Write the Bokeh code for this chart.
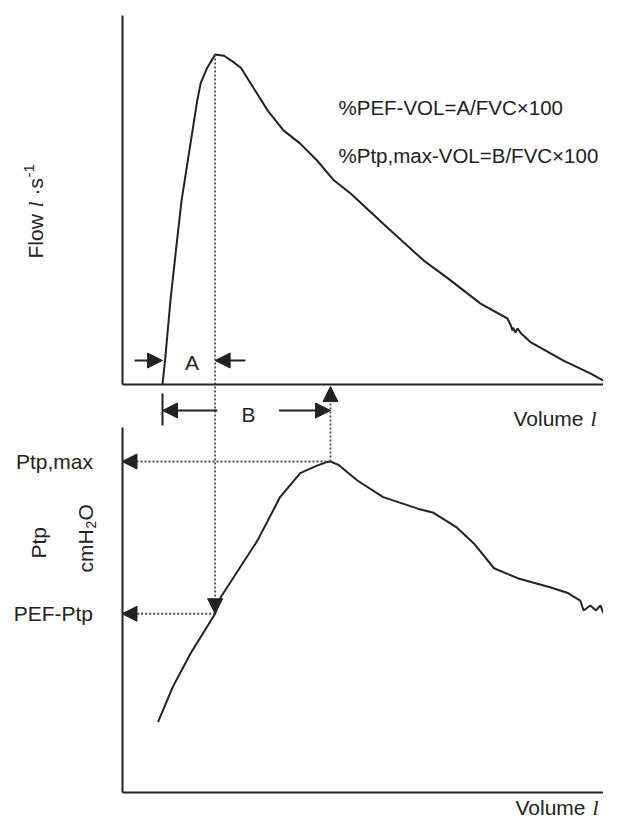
import math
from bokeh.plotting import figure
from bokeh.models import Range1d, LinearAxis, FixedTicker, Arrow, NormalHead, Label
from bokeh.embed import file_html
from bokeh.resources import INLINE

# ---------------- data ----------------
FVC = 4.0                     # l
PEF = 8.0                     # l/s
V_PEF = 0.47                  # volume at PEF (A)
PEF_PTP = 21.6                # cmH2O at PEF
PTP_MAX = 40.0                # cmH2O
V_PTPMAX = 1.50               # volume at Ptp,max (B)

volume_flow = [0.0, 0.027, 0.071, 0.12, 0.17, 0.24, 0.31, 0.34, 0.40, 0.455, 0.47,
               0.55, 0.63, 0.70, 0.81, 0.94, 1.08, 1.23, 1.38, 1.53, 1.68, 1.99,
               2.33, 2.54, 2.84, 3.08, 3.11, 3.125, 3.13, 3.15, 3.17, 3.20, 3.29,
               3.58, 3.82, 4.0]
flow = [0.0, 0.70, 2.04, 3.25, 4.46, 5.67, 6.88, 7.30, 7.68, 7.93, 8.0,
        7.97, 7.82, 7.68, 7.20, 6.64, 6.16, 5.84, 5.43, 4.95, 4.63, 3.85,
        3.01, 2.59, 1.96, 1.60, 1.43, 1.31, 1.38, 1.26, 1.36, 1.24, 1.02,
        0.58, 0.27, 0.0]

volume_ptp = [-0.04, 0.09, 0.25, 0.47, 0.52, 0.85, 1.05, 1.23, 1.38, 1.46, 1.50,
              1.57, 1.74, 1.97, 2.28, 2.42, 2.63, 2.78, 2.96, 3.17, 3.46, 3.62,
              3.73, 3.76, 3.82, 3.87, 3.91, 3.94]
ptp = [8.5, 12.7, 16.8, 21.6, 23.6, 30.5, 35.7, 38.6, 39.5, 39.9, 40.0,
       39.6, 37.7, 35.7, 34.3, 33.8, 32.0, 30.1, 27.1, 25.9, 24.8, 24.1,
       23.2, 22.0, 22.6, 22.0, 22.6, 21.6]

tick_values = [PEF_PTP, PTP_MAX]
tick_labels = ["PEF-Ptp", "Ptp,max"]
formulas = ["%PEF-VOL=A/FVC\u00d7100", "%Ptp,max-VOL=B/FVC\u00d7100"]

# ---------------- layout ----------------
W, H = 603, 820
X0_PX, PX_PER_L = 162.0, 112.0     # volume 0 position, px per litre
F0_PY, PX_PER_F = 384.0, 41.25     # flow 0 position, px per l/s
P0_PY, PX_PER_P = 792.0, 8.275     # Ptp 0 position, px per cmH2O

INK = "#222222"
DOT = "#4a4a4a"
SANS = "Liberation Sans"
SERIF = "Liberation Serif"


def vol_at(px):
    return (px - X0_PX) / PX_PER_L


def flow_at(py):
    return (F0_PY - py) / PX_PER_F


def ptp_at(py):
    return (P0_PY - py) / PX_PER_P


def flow_to_ptp(f):
    return ptp_at(F0_PY - f * PX_PER_F)


p = figure(width=W, height=H,
           x_range=Range1d(vol_at(0), vol_at(W)),
           y_range=Range1d(ptp_at(H), ptp_at(0)),
           x_axis_type=None, y_axis_type=None,
           toolbar_location=None, output_backend="svg",
           min_border=0, outline_line_color=None,
           background_fill_color="white", border_fill_color="white")
p.extra_y_ranges = {"flow": Range1d(flow_at(H), flow_at(0))}

V_AX = vol_at(121.5)
axis_kw = dict(axis_line_color=INK, axis_line_width=2,
               major_tick_line_color=None, minor_tick_line_color=None,
               major_tick_in=0, major_tick_out=0)

# upper panel axes (flow vs volume)
ax_flow = LinearAxis(fixed_location=V_AX, bounds=(0, flow_at(15)), y_range_name="flow",
                     ticker=FixedTicker(ticks=[]), major_label_text_font_size="0px", **axis_kw)
p.add_layout(ax_flow, "left")
ax_vol1 = LinearAxis(fixed_location=0, bounds=(V_AX, vol_at(613)), y_range_name="flow",
                     ticker=FixedTicker(ticks=[]), major_label_text_font_size="0px", **axis_kw)
p.add_layout(ax_vol1, "below")

# lower panel axes (Ptp vs volume)
ax_ptp = LinearAxis(fixed_location=V_AX, bounds=(0, ptp_at(427)),
                    ticker=FixedTicker(ticks=tick_values),
                    major_label_overrides=dict(zip(tick_values, tick_labels)),
                    major_label_text_font=SANS, major_label_text_font_size="21px",
                    major_label_text_color=INK, major_label_standoff=29, **axis_kw)
p.add_layout(ax_ptp, "left")
ax_vol2 = LinearAxis(fixed_location=0, bounds=(V_AX, vol_at(612)),
                     ticker=FixedTicker(ticks=[]), major_label_text_font_size="0px", **axis_kw)
p.add_layout(ax_vol2, "below")

# curves
p.line(volume_flow, flow, y_range_name="flow", line_width=2, line_color=INK)
p.line(volume_ptp, ptp, line_width=2, line_color=INK)


def head():
    return NormalHead(size=15, fill_color=INK, line_color=INK, line_width=1)


def dotted_arrow(x0, y0, x1, y1):
    p.add_layout(Arrow(x_start=x0, y_start=y0, x_end=x1, y_end=y1, end=head(),
                       line_color=DOT, line_width=1.8, line_dash="2 2"))


def solid_arrow(x0, y0, x1, y1, **kw):
    p.add_layout(Arrow(x_start=x0, y_start=y0, x_end=x1, y_end=y1, end=head(),
                       line_color=INK, line_width=1.8, **kw))


# dotted guides
dotted_arrow(V_PEF, flow_to_ptp(PEF), V_PEF, PEF_PTP)
dotted_arrow(V_PTPMAX, PTP_MAX, V_PTPMAX, flow_to_ptp(0) - 0.25)
dotted_arrow(V_PTPMAX, PTP_MAX, V_AX, PTP_MAX)
dotted_arrow(V_PEF, PEF_PTP, V_AX, PEF_PTP)

# A arrows (flow coordinates)
A_Y = flow_at(360)
solid_arrow(0 - 0.25, A_Y, 0.0, A_Y, y_range_name="flow")
solid_arrow(V_PEF + 0.27, A_Y, V_PEF, A_Y, y_range_name="flow")

# B arrows (ptp coordinates)
B_Y = ptp_at(410)
p.segment(x0=[0.0], y0=[ptp_at(393)], x1=[0.0], y1=[ptp_at(425)], line_width=2, line_color=INK)
solid_arrow(V_PEF + 0.02, B_Y, 0.0, B_Y)
solid_arrow(V_PTPMAX - 0.46, B_Y, V_PTPMAX, B_Y)


def put(px, py, text, size="21px", font=SANS, style="normal", align="left",
        baseline="middle", angle=0.0):
    p.add_layout(Label(x=px, y=H - py, x_units="screen", y_units="screen",
                       text=text, text_font=font, text_font_size=size,
                       text_font_style=style, text_align=align, text_baseline=baseline,
                       angle=angle, text_color=INK))


put(338, 107, formulas[0], size="20.5px")
put(338, 155, formulas[1], size="20.5px")
put(191.5, 362, "A", align="center")
put(248, 414, "B", align="center")

# upper volume label
put(513, 418, "Volume")
put(590, 418, "l", size="22px", font=SERIF, style="italic")
# lower volume label
put(515, 807, "Volume", baseline="alphabetic")
put(592, 807, "l", size="22px", font=SERIF, style="italic", baseline="alphabetic")

# flow axis title (rotated)
R = math.pi / 2
put(35, 258, "Flow", baseline="alphabetic", angle=R)
put(35, 207, "l", size="22px", font=SERIF, style="italic", baseline="alphabetic", angle=R)
put(35, 195, "\u00b7s", baseline="alphabetic", angle=R)
put(28, 177, "-1", size="15px", baseline="alphabetic", angle=R)

# Ptp axis title (rotated)
put(38, 558, "Ptp", baseline="alphabetic", angle=R)
put(85, 572, "cmH", baseline="alphabetic", angle=R)
put(90, 528, "2", size="14px", baseline="alphabetic", angle=R)
put(85, 520, "O", baseline="alphabetic", angle=R)

open("out.html", "w").write(file_html(p, INLINE))
